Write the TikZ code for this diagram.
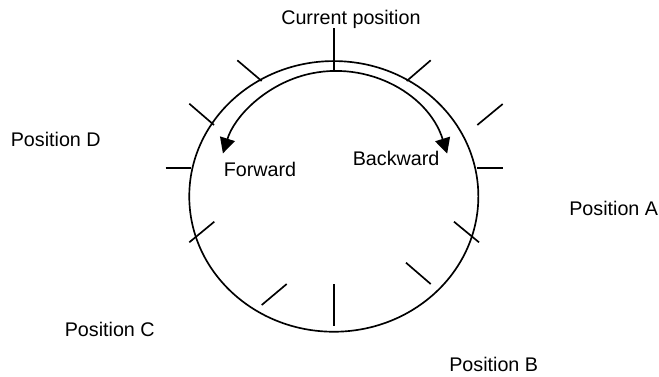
\documentclass[tikz,border=0pt]{standalone}
\usepackage{fontspec}
\setmainfont{Liberation Sans}
\usetikzlibrary{arrows.meta}
\begin{document}
\begin{tikzpicture}[x=0.75pt,y=0.75pt,
  line/.style={line width=1.25pt},
  lbl/.style={anchor=base west,inner sep=0pt,font=\fontsize{14.8}{17}\selectfont},
  dir/.style={line width=1.25pt,{Triangle[length=11.5pt,width=11.5pt]}-{Triangle[length=11.5pt,width=11.5pt]}}]
\useasboundingbox (0,0) rectangle (659,-376);
% dial
\coordinate (ctr) at (333.8,-196.4);
\draw[line] (ctr) ellipse [x radius=108.4pt, y radius=101.5pt];
% direction arc
\coordinate (arcc) at (335,-188.5);
\draw[dir] ([shift={(17.3:88.1pt)}]arcc) arc[start angle=17.3, end angle=162.6, radius=88.1pt];
% ticks
\draw[line] (334,-28) -- (334,-71);
\draw[line] (237.3,-60.3) -- (261.7,-81);
\draw[line] (189.3,-103.7) -- (214,-125);
\draw[line] (165.7,-168.3) -- (190.7,-168.3);
\draw[line] (189.3,-242.3) -- (214.3,-221.7);
\draw[line] (261.7,-305) -- (286.7,-284);
\draw[line] (334,-284) -- (334,-325.7);
\draw[line] (406,-262.7) -- (430.7,-284);
\draw[line] (454,-221.7) -- (479,-242.3);
\draw[line] (477.3,-168.3) -- (502.7,-168.3);
\draw[line] (477.3,-125) -- (502.7,-104);
\draw[line] (406.7,-81) -- (430.7,-60.3);
% labels
\node[lbl] (cur) at (281,-24) {Current position};
\node[lbl] (fwd) at (223.5,-176.7) {Forward};
\node[lbl] (bwd) at (352.5,-165.7) {Backward};
\node[lbl] (pd) at (10.5,-146) {Position D};
\node[lbl] (pc) at (64.5,-336.7) {Position C};
\node[lbl] (pa) at (569,-215) {Position A};
\node[lbl] (pb) at (449,-371) {Position B};
\end{tikzpicture}
\end{document}
